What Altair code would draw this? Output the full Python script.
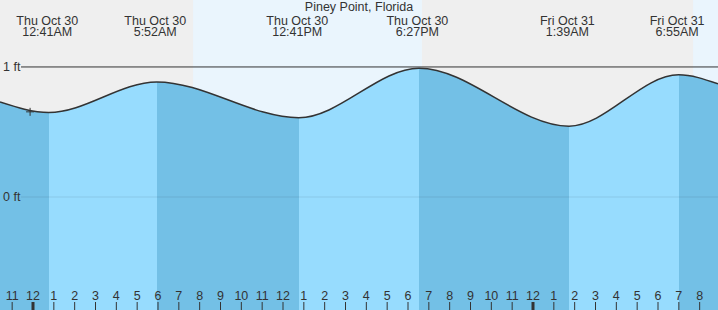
import altair as alt
import pandas as pd

W, H = 718, 310
# view window, hours since Thu Oct 30 00:00
X0, X1 = -1.584, 32.88
Y0, Y1 = -0.869, 1.515

# tide curve: window edges plus the turning points
curve_hour = [-1.584, 0.76, 5.94, 12.76, 18.53, 25.73, 30.99, 32.88]
curve_ft = [0.73, 0.65, 0.885, 0.61, 0.99, 0.545, 0.94, 0.87]
curve_kind = ["edge", "low", "high", "low", "high", "low", "high", "edge"]

event_hour = [0.683, 5.867, 12.683, 18.45, 25.65, 30.917]
event_day = ["Thu Oct 30", "Thu Oct 30", "Thu Oct 30", "Thu Oct 30", "Fri Oct 31", "Fri Oct 31"]
event_time = ["12:41AM", "5:52AM", "12:41PM", "6:27PM", "1:39AM", "6:55AM"]

sun_rise = [7.683, 31.683]
sun_set = [18.667, 42.667]

now_hour = [-0.14]
now_ft = [0.655]

y_ticks = [1, 0]
y_labels = ["1 ft", "0 ft"]

hour_ticks = list(range(-1, 33))
hour_labels = [str((h % 12) or 12) for h in hour_ticks]

TITLE = "Piney Point, Florida"

DARK = "#73c0e6"
LIGHT = "#97dcfe"
DAY = "#eaf5fd"
NIGHT = "#efefef"
INK = "#333333"
FONT = "Liberation Sans"
FS = 12.5

curve = pd.DataFrame({"h": curve_hour, "ft": curve_ft})
curve["base"] = Y0
events = pd.DataFrame({"h": event_hour, "label": [d + "\n" + t for d, t in zip(event_day, event_time)]})
sun = pd.DataFrame({"rise": sun_rise, "set": sun_set})
now = pd.DataFrame({"h": now_hour, "ft": now_ft})
ylab = pd.DataFrame({"ft": y_ticks, "label": y_labels})
hours = pd.DataFrame({"h": hour_ticks, "label": hour_labels})
mid = hours[[h % 24 == 0 for h in hour_ticks]].reset_index(drop=True)
reg = hours[[h % 24 != 0 for h in hour_ticks]].reset_index(drop=True)

xs = alt.Scale(domain=[X0, X1], nice=False, zero=False)
ys = alt.Scale(domain=[Y0, Y1], nice=False, zero=False)
def X(f):
    return alt.X(f, type="quantitative", scale=xs, axis=None)
def Y(f):
    return alt.Y(f, type="quantitative", scale=ys, axis=None)

# gradient stops at the turning points: falling = dark, rising = light
def off(h):
    return (h - X0) / (X1 - X0)

stops = [alt.GradientStop(color=DARK, offset=0)]
cur = DARK
for h, k in zip(curve_hour, curve_kind):
    if k == "edge":
        continue
    new = LIGHT if k == "low" else DARK
    stops.append(alt.GradientStop(color=cur, offset=off(h)))
    stops.append(alt.GradientStop(color=new, offset=off(h)))
    cur = new
stops.append(alt.GradientStop(color=cur, offset=1))
grad = alt.LinearGradient(gradient="linear", stops=stops, x1=0, x2=1, y1=0, y2=0)

daylight = alt.Chart(sun).mark_rect(color=DAY, clip=True).encode(
    x=X("rise"), x2="set", y=alt.value(0), y2=alt.value(H)
)

area = alt.Chart(curve).mark_area(interpolate="monotone", color=grad, opacity=1).encode(
    x=X("h"), y=Y("ft"), y2="base"
)

zero_line = alt.Chart(ylab[ylab.ft == 0]).mark_rule(color="#000000", opacity=0.09, strokeWidth=1).encode(
    y=Y("ft"), x=alt.value(21), x2=alt.value(W)
)
one_line = alt.Chart(ylab[ylab.ft == 1]).mark_rule(color=INK, strokeWidth=1).encode(
    y=Y("ft"), x=alt.value(21), x2=alt.value(W)
)

line = alt.Chart(curve).mark_line(interpolate="monotone", color=INK, strokeWidth=1.5).encode(
    x=X("h"), y=Y("ft")
)

cross = alt.Chart(now).mark_point(
    shape="M-1,0L1,0M0,-1L0,1", size=64, filled=False, color=INK, strokeWidth=1, opacity=1
).encode(x=X("h"), y=Y("ft"))

ytext = alt.Chart(ylab).mark_text(
    align="left", baseline="middle", font=FONT, fontSize=FS, color=INK
).encode(x=alt.value(3), y=Y("ft"), text="label:N")

title = alt.Chart(pd.DataFrame({"t": [TITLE]})).mark_text(
    align="center", baseline="alphabetic", font=FONT, fontSize=FS, color=INK
).encode(x=alt.value(W / 2), y=alt.value(11), text="t:N")

ev_text = alt.Chart(events).mark_text(
    align="center", baseline="top", font=FONT, fontSize=FS, color=INK,
    lineBreak="\n", lineHeight=11.5
).encode(x=X("h"), y=alt.value(14.5), text="label:N")

hour_text = alt.Chart(hours).mark_text(
    align="center", baseline="alphabetic", font=FONT, fontSize=FS, color=INK
).encode(x=X("h"), y=alt.value(300), text="label:N")

hour_tick = alt.Chart(reg).mark_rule(color=INK, strokeWidth=1).encode(
    x=X("h"), y=alt.value(302), y2=alt.value(H)
)
mid_tick = alt.Chart(mid).mark_rule(color=INK, strokeWidth=3).encode(
    x=X("h"), y=alt.value(302), y2=alt.value(H)
)

chart = alt.layer(
    daylight, area, zero_line, one_line, line, cross, ytext, title, ev_text,
    hour_text, hour_tick, mid_tick
).properties(
    width=W, height=H, autosize=alt.AutoSizeParams(type="none"), padding=0
).configure_view(strokeWidth=0, fill=NIGHT)

chart.save("out.html", embed_options={"renderer": "svg", "actions": False})
